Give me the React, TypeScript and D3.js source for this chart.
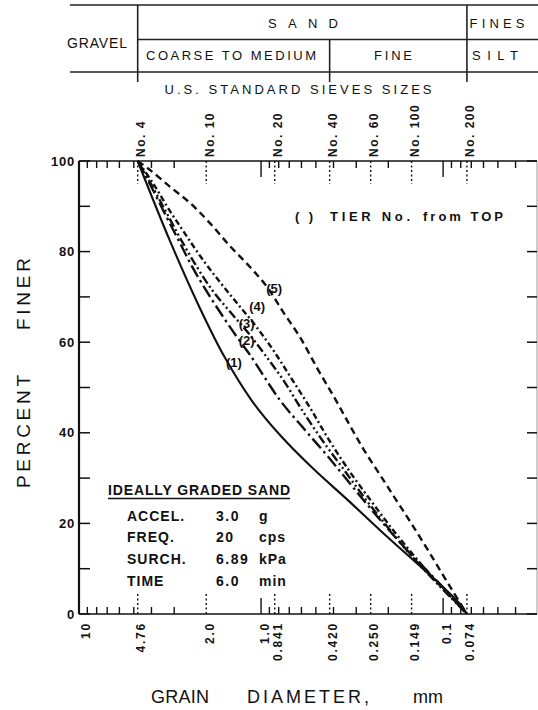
import React from "react";
import * as d3 from "d3";

// U.S. standard sieves
const sieveDiam = [4.76, 2.0, 0.841, 0.42, 0.25, 0.149, 0.074];
const sieveNames = ["No. 4", "No. 10", "No. 20", "No. 40", "No. 60", "No. 100", "No. 200"];

// bottom axis labels (mm)
const diamTicks = [10, 4.76, 2.0, 1.0, 0.841, 0.42, 0.25, 0.149, 0.1, 0.074];
const diamLabels = ["10", "4.76", "2.0", "1.0", "0.841", "0.420", "0.250", "0.149", "0.1", "0.074"];
const minorDiam = [9, 8, 7, 6, 5, 4, 3, 0.9, 0.8, 0.7, 0.6, 0.5, 0.4, 0.3, 0.2, 0.09, 0.08, 0.07, 0.06, 0.05, 0.04];
const decadeDiam = [1.0, 0.1];

const pctMajor = [0, 20, 40, 60, 80, 100];
const pctMinor = [10, 30, 50, 70, 90];

// gradation curves [diameter mm, percent finer], tier No. from top
const tier1 = [[4.76, 100], [3.16, 82.3], [2.16, 67.4], [1.58, 56.6], [1.12, 47.0], [0.787, 39.5], [0.518, 32.1], [0.337, 25.3], [0.222, 18.5], [0.146, 11.9], [0.104, 6.6], [0.0807, 2.2], [0.074, 0]];
const tier2 = [[4.76, 100], [3.97, 94], [3.3, 87.6], [2.79, 81.9], [2.37, 76.4], [1.98, 71.1], [1.64, 66], [1.36, 61.2], [1.15, 57.2], [0.787, 47.2], [0.573, 40.6], [0.428, 34.7], [0.313, 28], [0.222, 20.8], [0.158, 14.1], [0.1135, 8.2], [0.074, 0]];
const tier3 = [[4.76, 100], [3.97, 94.5], [3.32, 88.7], [2.75, 82.6], [2.25, 76.6], [1.84, 71.3], [1.48, 66.7], [1.19, 62.3], [0.951, 57.2], [0.757, 51.7], [0.595, 45], [0.462, 38.4], [0.35, 31.8], [0.265, 25.2], [0.2, 19], [0.152, 13.2], [0.115, 7.9], [0.0916, 3.8], [0.074, 0]];
const tier4 = [[4.76, 100], [3.92, 95.1], [3.24, 89.6], [2.65, 84.3], [2.14, 78.8], [1.7, 73.5], [1.36, 68.7], [1.08, 63.8], [0.859, 58.3], [0.684, 52.1], [0.538, 45.5], [0.423, 38.4], [0.324, 31.3], [0.246, 24.7], [0.188, 18.5], [0.144, 12.8], [0.111, 7.5], [0.0893, 3.5], [0.074, 0]];
const tier5 = [[4.76, 100], [4.07, 98], [3.16, 94.3], [2.45, 90.7], [1.91, 86.3], [1.48, 81.2], [1.15, 76.6], [0.927, 72.2], [0.757, 66.7], [0.611, 61.1], [0.486, 53.9], [0.392, 47.5], [0.324, 41.5], [0.272, 36.2], [0.222, 30.7], [0.184, 25.6], [0.15, 20.1], [0.115, 12.6], [0.0893, 5.3], [0.074, 0]];

const tiers = [tier1, tier2, tier3, tier4, tier5];
const tierNames = ["(1)", "(2)", "(3)", "(4)", "(5)"];
const tierLabelAt = [[1.41, 55.5], [1.2, 60.4], [1.2, 64.2], [1.05, 67.9], [0.848, 72.0]];
const tierDash = ["none", "13 4 2.5 4", "9 3 2 3 2 3", "6 3 2 3", "7 4.5"];

const legendRows = ["ACCEL.", "FREQ.", "SURCH.", "TIME"];
const legendValues = ["3.0", "20", "6.89", "6.0"];
const legendUnits = ["g", "cps", "kPa", "min"];

const font = "'Liberation Sans', Arial, Helvetica, sans-serif";

export default function App() {
    const x = d3.scaleLog().domain([10, 0.0305]).range([79, 537]);
    const y = d3.scaleLinear().domain([0, 100]).range([614, 161]);
    const top = y(100);
    const bottom = y(0);
    const left = x(10);
    const right = 537;

    const line = d3
        .line<number[]>()
        .x((d) => x(d[0]))
        .y((d) => y(d[1]))
        .curve(d3.curveCatmullRom.alpha(0.5));

    const xGravel = x(4.76);
    const xFine = x(0.42);
    const xFines = x(0.074);

    return (
        <svg
            width={538}
            height={710}
            style={{ position: "absolute", left: 0, top: 0, background: "#fff" }}
            fontFamily={font}
        >
            {/* classification table */}
            <g stroke="#222" strokeWidth={1.6}>
                <line x1={70} x2={538} y1={5} y2={5} />
                <line x1={70} x2={538} y1={72} y2={72} />
                <line x1={xGravel} x2={538} y1={39.5} y2={39.5} />
                <line x1={xGravel} x2={xGravel} y1={5} y2={82} />
                <line x1={xFine} x2={xFine} y1={39.5} y2={82} />
                <line x1={xFines} x2={xFines} y1={5} y2={82} />
            </g>
            <g fontSize={13} fill="#111" textAnchor="middle">
                <text x={97} y={48} fontSize={14} textLength={60} lengthAdjust="spacing">GRAVEL</text>
                <text x={303} y={27.5} textLength={70} lengthAdjust="spacing">SAND</text>
                <text x={497} y={27.5} textLength={55} lengthAdjust="spacing">FINES</text>
                <text x={231} y={60} textLength={170} lengthAdjust="spacing">COARSE TO MEDIUM</text>
                <text x={393} y={60} textLength={38} lengthAdjust="spacing">FINE</text>
                <text x={495} y={60} textLength={46} lengthAdjust="spacing">SILT</text>
                <text x={298} y={94} textLength={267} lengthAdjust="spacing">U.S. STANDARD SIEVES SIZES</text>
            </g>

            {/* sieve names */}
            <g fontSize={12} fontWeight="bold" fill="#111">
                {sieveDiam.map((d, i) => (
                    <text
                        key={i}
                        transform={`translate(${x(d) + 7.5},157) rotate(-90)`}
                        letterSpacing={1.5}
                    >
                        {sieveNames[i]}
                    </text>
                ))}
            </g>

            {/* frame */}
            <g stroke="#111" fill="none">
                <line x1={left} x2={right} y1={top} y2={top} strokeWidth={1.6} />
                <line x1={left} x2={right} y1={bottom} y2={bottom} strokeWidth={1.6} />
                <line x1={left} x2={left} y1={top} y2={bottom} strokeWidth={2.2} />
                <line x1={right} x2={right} y1={top} y2={bottom} strokeWidth={1} stroke="#999" />
            </g>

            {/* x ticks */}
            <g stroke="#111" strokeWidth={1.4}>
                {minorDiam.map((d, i) => (
                    <g key={i}>
                        <line x1={x(d)} x2={x(d)} y1={top} y2={top + 7} />
                        <line x1={x(d)} x2={x(d)} y1={bottom} y2={bottom - 7} />
                    </g>
                ))}
                {decadeDiam.map((d, i) => (
                    <g key={i}>
                        <line x1={x(d)} x2={x(d)} y1={top} y2={top + 16} />
                        <line x1={x(d)} x2={x(d)} y1={bottom} y2={bottom - 16} />
                    </g>
                ))}
                {sieveDiam.map((d, i) => (
                    <g key={i} strokeDasharray="2 2.5">
                        <line x1={x(d)} x2={x(d)} y1={top} y2={top + 23} />
                        <line x1={x(d)} x2={x(d)} y1={bottom} y2={bottom - 22} />
                    </g>
                ))}
            </g>
            <g fontSize={12} fontWeight="bold" fill="#111" textAnchor="end">
                {diamTicks.map((d, i) => (
                    <text
                        key={i}
                        transform={`translate(${x(d) + (i === 0 ? 11 : 7.5)},622) rotate(-90)`}
                        letterSpacing={1.8}
                    >
                        {diamLabels[i]}
                    </text>
                ))}
            </g>

            {/* y ticks */}
            <g stroke="#111" strokeWidth={1.5}>
                {pctMajor.concat(pctMinor).map((p, i) => (
                    <g key={i}>
                        <line x1={left} x2={left + 11} y1={y(p)} y2={y(p)} />
                        <line x1={right - 10} x2={right} y1={y(p)} y2={y(p)} />
                    </g>
                ))}
            </g>
            <g fontSize={13} fontWeight="bold" fill="#111" textAnchor="end">
                {pctMajor.map((p, i) => (
                    <text key={i} x={75} y={y(p)} dy="0.36em" letterSpacing={0.8}>
                        {p}
                    </text>
                ))}
            </g>

            {/* axis titles */}
            <g fontSize={19} fill="#111" textAnchor="middle">
                <text transform="translate(30,431.5) rotate(-90)" textLength={113} lengthAdjust="spacing">PERCENT</text>
                <text transform="translate(30,294) rotate(-90)" textLength={72} lengthAdjust="spacing">FINER</text>
            </g>
            <g fontSize={18} fill="#111" textAnchor="middle">
                <text x={180} y={703} textLength={58} lengthAdjust="spacing">GRAIN</text>
                <text x={308} y={703} textLength={122} lengthAdjust="spacing">DIAMETER,</text>
                <text x={428} y={703}>mm</text>
            </g>

            {/* curves */}
            <g fill="none" stroke="#111" strokeLinecap="butt" strokeLinejoin="round">
                {tiers.map((t, i) => (
                    <path
                        key={i}
                        d={line(t) || ""}
                        strokeWidth={i === 0 ? 2.1 : 2.4}
                        strokeDasharray={tierDash[i]}
                    />
                ))}
            </g>
            <g fontSize={13} fontWeight="bold" fill="#111" textAnchor="middle">
                {tierLabelAt.map((p, i) => (
                    <text key={i} x={x(p[0])} y={y(p[1])} dy="0.36em">
                        {tierNames[i]}
                    </text>
                ))}
            </g>

            {/* tier note */}
            <g fontSize={13} fontWeight="bold" fill="#111">
                <text x={295} y={221} textLength={18} lengthAdjust="spacing">( )</text>
                <text x={330} y={221} textLength={80} lengthAdjust="spacing">TIER No.</text>
                <text x={423} y={221} textLength={80} lengthAdjust="spacing">from TOP</text>
            </g>

            {/* test conditions */}
            <g fontSize={14} fontWeight="bold" fill="#111">
                <text x={108} y={495} textLength={182} lengthAdjust="spacing">IDEALLY GRADED SAND</text>
                <line x1={108} x2={290} y1={498.5} y2={498.5} stroke="#111" strokeWidth={1.5} />
                {legendRows.map((r, i) => (
                    <g key={i}>
                        <text x={127} y={520.6 + i * 21.7} letterSpacing={1}>{r}</text>
                        <text x={216} y={520.6 + i * 21.7} letterSpacing={1.5}>{legendValues[i]}</text>
                        <text x={259} y={520.6 + i * 21.7} letterSpacing={1}>{legendUnits[i]}</text>
                    </g>
                ))}
            </g>
        </svg>
    );
}
